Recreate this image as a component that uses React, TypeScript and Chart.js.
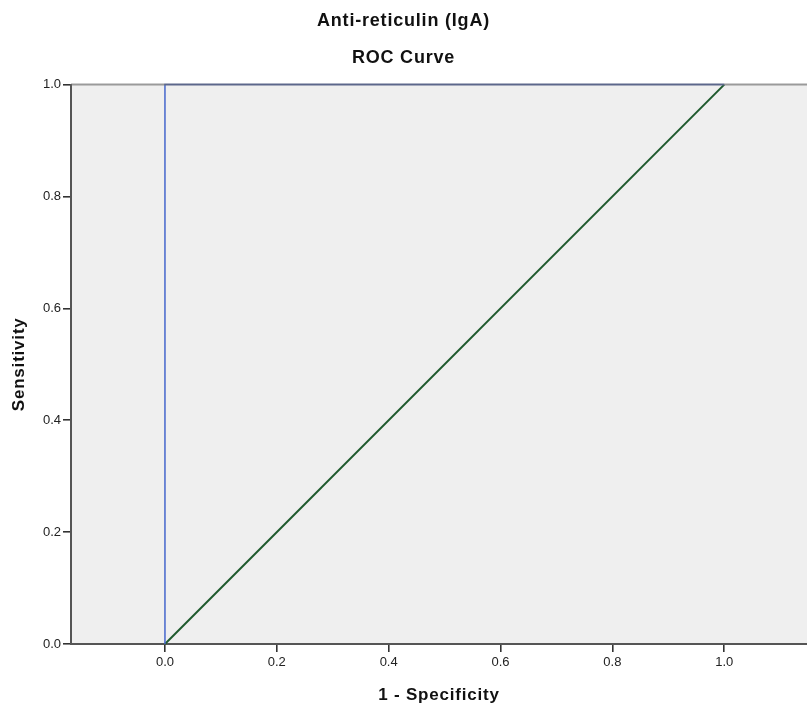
import React, { useEffect, useRef } from "react";
import { Chart, registerables } from "chart.js";

Chart.register(...registerables);

const titleLines = ["Anti-reticulin (IgA)", "ROC Curve"];
const xAxisTitle = "1 - Specificity";
const yAxisTitle = "Sensitivity";
const tickValues = [0, 0.2, 0.4, 0.6, 0.8, 1.0];

const rocX = [0, 0, 1];
const rocY = [0, 1, 1];
const refX = [0, 1];
const refY = [0, 1];

const xMin = -0.168;
const xMax = 1.148;
const yMin = 0;
const yMax = 1;

const frontFont = "'Liberation Sans', Arial, sans-serif";

const framePlugin = {
  id: "frame",
  beforeDraw(chart: any) {
    const { ctx, chartArea } = chart;
    ctx.save();
    ctx.fillStyle = "#efefef";
    ctx.fillRect(chartArea.left, chartArea.top, chartArea.right - chartArea.left, chartArea.bottom - chartArea.top);
    ctx.restore();
    ctx.letterSpacing = "0.8px";
  },
  beforeDatasetsDraw(chart: any) {
    chart.ctx.letterSpacing = "0px";
  },
  afterDatasetsDraw(chart: any) {
    const { ctx, chartArea } = chart;
    ctx.save();
    ctx.strokeStyle = "rgba(105,105,105,0.65)";
    ctx.lineWidth = 2;
    ctx.beginPath();
    ctx.moveTo(chartArea.left, chartArea.top);
    ctx.lineTo(chartArea.right, chartArea.top);
    ctx.stroke();
    ctx.restore();
  },
  afterDraw(chart: any) {
    chart.ctx.letterSpacing = "0px";
  },
};

export default function App() {
  const ref = useRef<HTMLCanvasElement | null>(null);

  useEffect(() => {
    if (!ref.current) return;
    const chart = new Chart(ref.current, {
      type: "scatter",
      data: {
        datasets: [
          {
            label: "ROC",
            data: rocX.map((x, i) => ({ x, y: rocY[i] })),
            showLine: true,
            borderColor: "#4566cc",
            borderWidth: 1.5,
            pointRadius: 0,
            clip: false as any,
            order: 1,
          },
          {
            label: "Reference",
            data: refX.map((x, i) => ({ x, y: refY[i] })),
            showLine: true,
            borderColor: "#1f5a2e",
            borderWidth: 2,
            pointRadius: 0,
            clip: false as any,
            order: 2,
          },
        ],
      },
      options: {
        animation: false,
        responsive: false,
        layout: { padding: 0 },
        plugins: {
          legend: { display: false },
          tooltip: { enabled: false },
          title: {
            display: true,
            text: titleLines,
            color: "#111",
            font: { family: frontFont, size: 18, weight: "bold", lineHeight: 2.02 },
            padding: { top: 3.3, bottom: 8.6 },
          },
        },
        scales: {
          x: {
            type: "linear",
            min: xMin,
            max: xMax,
            afterBuildTicks: (scale: any) => {
              scale.ticks = tickValues.map((v) => ({ value: v }));
            },
            afterFit: (scale: any) => {
              scale.height = 67;
            },
            ticks: {
              z: 1,
              color: "#222",
              font: { family: frontFont, size: 13 },
              padding: 3,
              maxRotation: 0,
              autoSkip: false,
              callback: (v: any) => Number(v).toFixed(1),
            },
            grid: {
              display: true,
              drawOnChartArea: false,
              drawTicks: true,
              tickLength: 8,
              color: "#333",
              lineWidth: 1.6,
            },
            border: { display: true, color: "#555", width: 2 },
            title: {
              display: true,
              text: xAxisTitle,
              color: "#111",
              font: { family: frontFont, size: 17, weight: "bold" },
              padding: { top: 0, bottom: 5.8 },
            },
          },
          y: {
            type: "linear",
            min: yMin,
            max: yMax,
            afterBuildTicks: (scale: any) => {
              scale.ticks = tickValues.map((v) => ({ value: v }));
            },
            afterFit: (scale: any) => {
              scale.width = 71;
            },
            ticks: {
              z: 1,
              color: "#222",
              font: { family: frontFont, size: 13 },
              padding: 2,
              autoSkip: false,
              callback: (v: any) => Number(v).toFixed(1),
            },
            grid: {
              display: true,
              drawOnChartArea: false,
              drawTicks: true,
              tickLength: 8,
              color: "#333",
              lineWidth: 1.6,
            },
            border: { display: true, color: "#555", width: 2 },
            title: {
              display: true,
              text: yAxisTitle,
              color: "#111",
              font: { family: frontFont, size: 17, weight: "bold" },
              padding: { top: 8.8, bottom: 0 },
            },
          },
        },
      },
      plugins: [framePlugin],
    });
    return () => chart.destroy();
  }, []);

  return (
    <div style={{ position: "absolute", left: 0, top: 0, width: 807, height: 711 }}>
      <canvas ref={ref} width={807} height={711} style={{ display: "block", width: 807, height: 711 }} />
    </div>
  );
}
